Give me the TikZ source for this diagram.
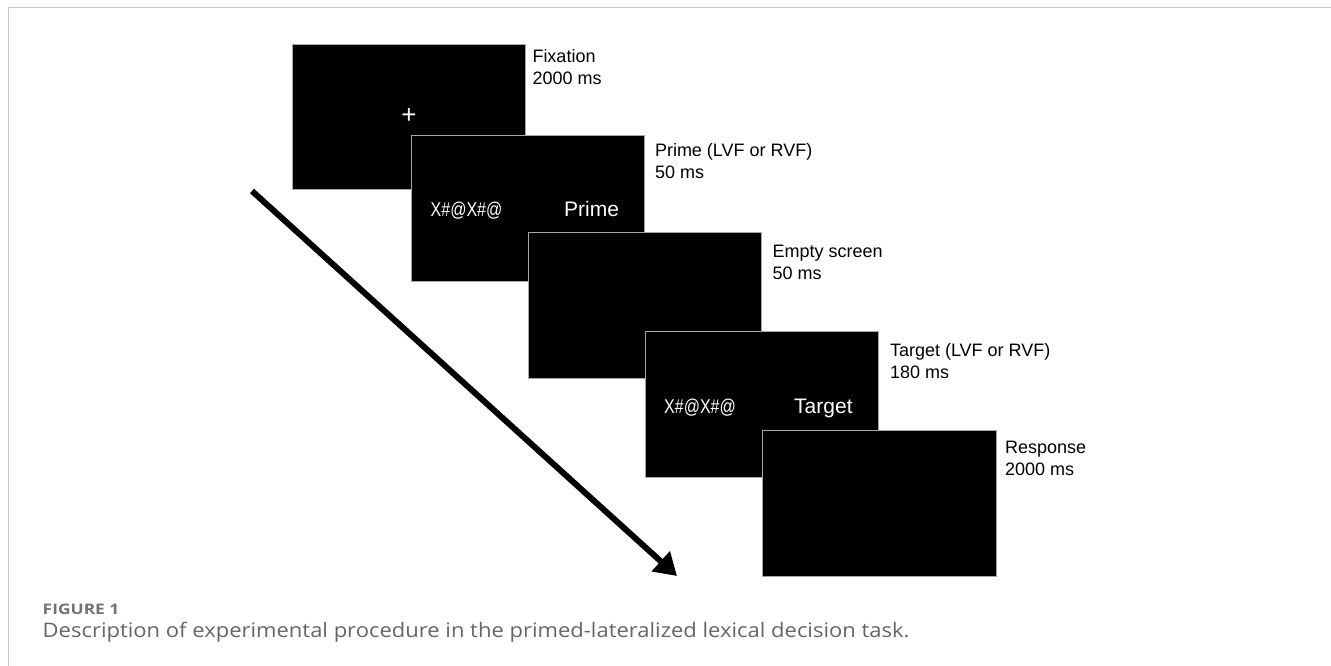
\documentclass[tikz,border=0pt]{standalone}
\usepackage{fontspec}
\usepackage{graphicx}
\setmainfont{Liberation Sans}
\newfontfamily\capfont{Open Sans}
\usetikzlibrary{arrows.meta}
\definecolor{capgray}{HTML}{737373}
\definecolor{descgray}{HTML}{666666}
\definecolor{framegray}{HTML}{C8C8C8}
\begin{document}
\begin{tikzpicture}[x=1pt,y=-1pt,
  screen/.style={draw=gray!70, line width=0.8pt, fill=black, minimum width=233pt, minimum height=146pt, anchor=north west, inner sep=0pt, outer sep=0pt},
  lbl/.style={anchor=north west, inner sep=0pt, outer sep=0pt, align=left, font=\fontsize{18}{22}\selectfont},
  stim/.style={text=white, inner sep=0pt, font=\fontsize{21}{24}\selectfont},
  mask/.style={text=white, inner sep=0pt, anchor=base, font=\fontsize{20}{24}\selectfont},
  timearrow/.style={line width=6pt, -{Triangle[length=22pt,width=26pt]}},
  captext/.style={anchor=base west, inner sep=0pt, outer sep=0pt}
]
\useasboundingbox (0,0) rectangle (1331,666);
\fill[white] (0,0) rectangle (1331,666);
\draw[framegray, line width=1.5pt] (8.5,666) -- (8.5,7.5) -- (1331,7.5);

% screens
\node[screen, minimum height=145pt] (fix) at (292,44) {};
\node[text=white, inner sep=0pt, anchor=center, font=\fontsize{26}{28}\selectfont] (plus) at (409,116) {+};
\node[screen] (prime) at (411,135) {};
\node[mask] (pmask) at (466.5,216.7) {\scalebox{0.8}[1]{X\#@X\#@}};
\node[stim, anchor=base west] (pword) at (564,216.7) {Prime};
\node[screen] (empty) at (528,232) {};
\node[screen] (target) at (645,331) {};
\node[mask] (tmask) at (700,413.3) {\scalebox{0.8}[1]{X\#@X\#@}};
\node[stim, anchor=base west] (tword) at (794,413.3) {Target};
\node[screen, minimum width=234pt] (resp) at (762,430) {};

% labels
\node[lbl] (fixL) at (532.5,49.5) {Fixation\\2000 ms};
\node[lbl] (primeL) at (655,143) {Prime (LVF or RVF)\\50 ms};
\node[lbl] (emptyL) at (772.5,245) {Empty screen\\50 ms};
\node[lbl] (targetL) at (890,343) {Target (LVF or RVF)\\180 ms};
\node[lbl] (respL) at (1005,441) {Response\\2000 ms};

% time arrow
\coordinate (aS) at (252,191);
\coordinate (aE) at (677,576);
\draw[timearrow] (aS) -- (aE);

% caption
\node[captext, text=capgray, font=\capfont\bfseries\fontsize{14.5}{17}\selectfont] (fig) at (42.7,614.5) {\scalebox{1.2}[1]{FIGURE 1}};
\node[captext, text=descgray, font=\capfont\fontsize{20}{24}\selectfont] (desc) at (42.7,637) {\scalebox{1.1}[1]{Description of experimental procedure in the primed-lateralized lexical decision task.}};
\end{tikzpicture}
\end{document}
